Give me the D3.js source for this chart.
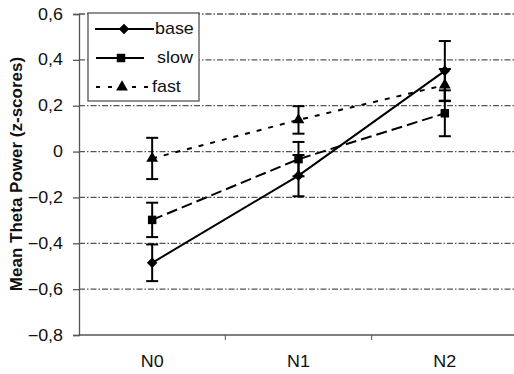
<!DOCTYPE html>
<html>
<head>
<meta charset="utf-8">
<script src="https://cdn.jsdelivr.net/npm/d3@7"></script>
<style>
  body { margin: 0; background: #fff; }
  text { font-family: "Liberation Sans", Arial, sans-serif; }
</style>
</head>
<body>
<div id="chart"></div>
<script>
// data
const categories = ["N0", "N1", "N2"];
const seriesNames = ["base", "slow", "fast"];
const baseMean = [-0.485, -0.105, 0.352];
const baseErr = [0.08, 0.09, 0.13];
const slowMean = [-0.298, -0.033, 0.167];
const slowErr = [0.075, 0.075, 0.10];
const fastMean = [-0.03, 0.138, 0.29];
const fastErr = [0.09, 0.06, 0.07];
const yTicks = [-0.8, -0.6, -0.4, -0.2, 0, 0.2, 0.4, 0.6];

const width = 514, height = 374;
const SX = 1.12; // the original text is drawn a bit wide
const svg = d3.select("#chart").append("svg")
    .attr("width", width).attr("height", height);

const x = d3.scaleBand().domain(categories).range([79, 518]);
const y = d3.scaleLinear().domain([-0.8, 0.6]).range([335, 14]);

function stretch(sel) {
  sel.each(function() {
    const t = d3.select(this);
    const xx = +t.attr("x") || 0;
    t.attr("x", xx / SX).attr("transform", `scale(${SX},1)`);
  });
}

// gridlines
svg.append("g").selectAll("line")
    .data(yTicks.filter(d => d > -0.8))
    .enter().append("line")
    .attr("x1", 79).attr("x2", width)
    .attr("y1", d => y(d)).attr("y2", d => y(d))
    .attr("stroke", "#555").attr("stroke-width", 1.3)
    .attr("stroke-dasharray", "6,2,1.5,2");

// y axis
const fmt = d => d === 0 ? "0" : d3.format(".1f")(d).replace(".", ",").replace("-", "\u2212");
let yAxis = svg.append("g").attr("transform", "translate(79,0)")
    .call(d3.axisLeft(y).tickValues(yTicks).tickSize(6).tickFormat(fmt));
yAxis.select(".domain").attr("stroke", "#555").attr("stroke-width", 1.3);
yAxis.selectAll(".tick line").attr("stroke", "#555").attr("stroke-width", 1.3);
yAxis.selectAll("text").attr("font-size", 16).attr("fill", "#111").attr("x", -16);
stretch(yAxis.selectAll("text"));

// x axis
let xAxis = svg.append("g").attr("transform", "translate(0,335)");
xAxis.append("line").attr("x1", 79).attr("x2", width).attr("y1", 0).attr("y2", 0)
    .attr("stroke", "#555").attr("stroke-width", 1.3);
xAxis.selectAll(".tk").data(categories.slice(1)).enter().append("line")
    .attr("x1", d => x(d)).attr("x2", d => x(d)).attr("y1", 0).attr("y2", 5)
    .attr("stroke", "#555").attr("stroke-width", 1);
xAxis.selectAll("text").data(categories).enter().append("text")
    .attr("x", d => x(d) + x.bandwidth() / 2).attr("y", 32)
    .attr("text-anchor", "middle").attr("font-size", 16).attr("fill", "#111")
    .text(d => d);
stretch(xAxis.selectAll("text"));

// y title
svg.append("text")
    .attr("transform", "translate(22,174) rotate(-90)")
    .attr("text-anchor", "middle").attr("font-size", 17).attr("font-weight", "bold")
    .attr("fill", "#111")
    .text("Mean Theta Power (z-scores)");

const series = [
  {name: seriesNames[0], mean: baseMean, err: baseErr, dash: null, sym: d3.symbolSquare, size: 56, rot: 45},
  {name: seriesNames[1], mean: slowMean, err: slowErr, dash: "11,5", sym: d3.symbolSquare, size: 72, rot: 0},
  {name: seriesNames[2], mean: fastMean, err: fastErr, dash: "5,7", sym: d3.symbolTriangle, size: 60, rot: 0}
];

const cx = c => x(c) + x.bandwidth() / 2;
const line = d3.line().x(d => cx(d.c)).y(d => y(d.v));

series.forEach(s => {
  const pts = categories.map((c, i) => ({c: c, v: s.mean[i], e: s.err[i]}));
  const g = svg.append("g");
  g.append("path").datum(pts).attr("d", line)
      .attr("fill", "none").attr("stroke", "#000").attr("stroke-width", 2)
      .attr("stroke-dasharray", s.dash);
  // error bars
  const eb = g.selectAll(".eb").data(pts).enter().append("g");
  eb.append("line").attr("x1", d => cx(d.c)).attr("x2", d => cx(d.c))
      .attr("y1", d => y(d.v - d.e)).attr("y2", d => y(d.v + d.e))
      .attr("stroke", "#000").attr("stroke-width", 2);
  [-1, 1].forEach(k => {
    eb.append("line").attr("x1", d => cx(d.c) - 6).attr("x2", d => cx(d.c) + 6)
        .attr("y1", d => y(d.v + k * d.e)).attr("y2", d => y(d.v + k * d.e))
        .attr("stroke", "#000").attr("stroke-width", 2);
  });
  g.selectAll(".mk").data(pts).enter().append("path")
      .attr("d", d3.symbol().type(s.sym).size(s.size))
      .attr("transform", d => `translate(${cx(d.c)},${y(d.v)}) rotate(${s.rot})`)
      .attr("fill", "#000");
});

// legend
const lg = svg.append("g").attr("transform", "translate(88,13)");
lg.append("rect").attr("width", 111).attr("height", 88)
    .attr("fill", "#fff").attr("stroke", "#555").attr("stroke-width", 1.3);
const legX1 = [7, 8, 8], legX2 = [66, 56, 62], legMk = [36, 33, 34], legTx = [67, 69, 64];
series.forEach((s, i) => {
  const yy = 16 + i * 29;
  lg.append("line").attr("x1", legX1[i]).attr("x2", legX2[i]).attr("y1", yy).attr("y2", yy)
      .attr("stroke", "#000").attr("stroke-width", 2)
      .attr("stroke-dasharray", i === 2 ? "4,8" : null);
  lg.append("path").attr("d", d3.symbol().type(s.sym).size(s.size))
      .attr("transform", `translate(${legMk[i]},${yy}) rotate(${s.rot})`).attr("fill", "#000");
  const t = lg.append("text").attr("x", legTx[i]).attr("y", yy + 5.5)
      .attr("font-size", 16).attr("fill", "#111").text(s.name);
  stretch(t);
});
</script>
</body>
</html>
